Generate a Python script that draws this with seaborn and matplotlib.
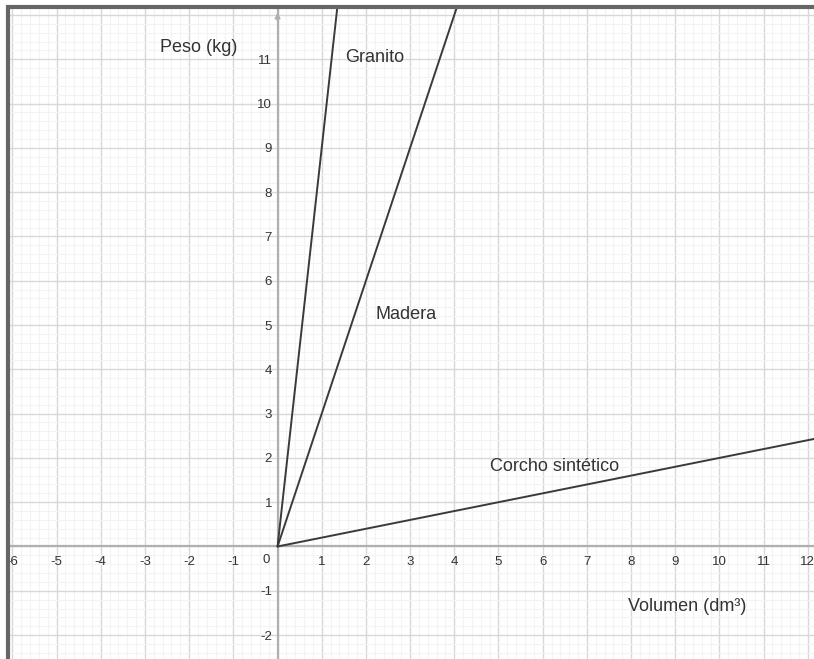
import numpy as np
import pandas as pd
import matplotlib.pyplot as plt
import seaborn as sns
from matplotlib.ticker import MultipleLocator

# datos (rectas por el origen)
volumen = [0, 14]
peso_granito = [0, 126]
peso_madera = [0, 42]
peso_corcho = [0, 2.8]
materiales = ['Granito', 'Madera', 'Corcho sintético']

xticks = [-6, -5, -4, -3, -2, -1, 1, 2, 3, 4, 5, 6, 7, 8, 9, 10, 11, 12]
yticks = [-2, -1, 1, 2, 3, 4, 5, 6, 7, 8, 9, 10, 11]

sns.set_style("white")
plt.rcParams['font.family'] = ['Liberation Sans', 'DejaVu Sans']
plt.rcParams['axes.unicode_minus'] = False

df = pd.DataFrame({
    'volumen': volumen * 3,
    'peso': peso_granito + peso_madera + peso_corcho,
    'material': [m for m in materiales for _ in volumen],
})

W, H = 814, 659
XLIM = (-6.10, 12.14)
YLIM = (-2.54, 12.18)
pos = [8 / W, 0, (W - 8) / W, (H - 7) / H]
fig = plt.figure(figsize=(W / 100, H / 100), dpi=100)

# ejes de fondo solo con la cuadrícula (para que no tape los números)
bg = fig.add_axes(pos)
bg.set_xlim(XLIM)
bg.set_ylim(YLIM)
bg.xaxis.set_major_locator(MultipleLocator(1))
bg.yaxis.set_major_locator(MultipleLocator(1))
bg.xaxis.set_minor_locator(MultipleLocator(0.2))
bg.yaxis.set_minor_locator(MultipleLocator(0.2))
bg.grid(which='minor', color='#f3f3f3', linewidth=0.8)
bg.grid(which='major', color='#d8d8d8', linewidth=1.0)
bg.tick_params(which='both', length=0, labelbottom=False, labelleft=False)
for s in bg.spines.values():
    s.set_visible(False)

ax = fig.add_axes(pos)
ax.patch.set_alpha(0)

sns.lineplot(data=df, x='volumen', y='peso', hue='material',
             palette=['#3a3a3a'] * 3, linewidth=1.4, legend=False,
             ax=ax, zorder=3)

ax.set_xlim(XLIM)
ax.set_ylim(YLIM)
ax.set_xlabel('')
ax.set_ylabel('')

# ejes en el origen
for s in ['top', 'right']:
    ax.spines[s].set_visible(False)
ax.spines['left'].set_position(('data', 0))
ax.spines['bottom'].set_position(('data', 0))
for s in ['left', 'bottom']:
    ax.spines[s].set_color('#b0b0b0')
    ax.spines[s].set_linewidth(1.6)

ax.set_xticks(xticks)
ax.set_yticks(yticks)
ax.tick_params(which='both', length=0, labelsize=9.5, labelcolor='#333333')
ax.tick_params(axis='x', pad=7)
ax.tick_params(axis='y', pad=4)
ax.text(-0.25, -0.3, '0', ha='center', va='center', fontsize=9.5, color='#333333')

# flecha del eje y
ax.annotate('', xy=(0, 12.12), xytext=(0, 11.8),
            arrowprops=dict(arrowstyle='-|>', color='#b0b0b0', lw=1.2,
                            mutation_scale=8))

txt = dict(fontsize=13, color='#333333', ha='center', va='center')
ax.text(-1.79, 11.27, 'Peso (kg)', **txt)
ax.text(2.19, 11.03, 'Granito', **txt)
ax.text(2.91, 5.23, 'Madera', **txt)
ax.text(6.28, 1.80, 'Corcho sintético', **txt)
ax.text(9.27, -1.36, 'Volumen (dm³)', **txt)

# marco superior e izquierdo
fig.add_artist(plt.Line2D([8 / W, 8 / W, 1], [0, 1 - 7 / H, 1 - 7 / H],
                          transform=fig.transFigure, color='#666666',
                          linewidth=3, solid_joinstyle='miter'))

plt.savefig('out.png', dpi=100)
plt.close()
